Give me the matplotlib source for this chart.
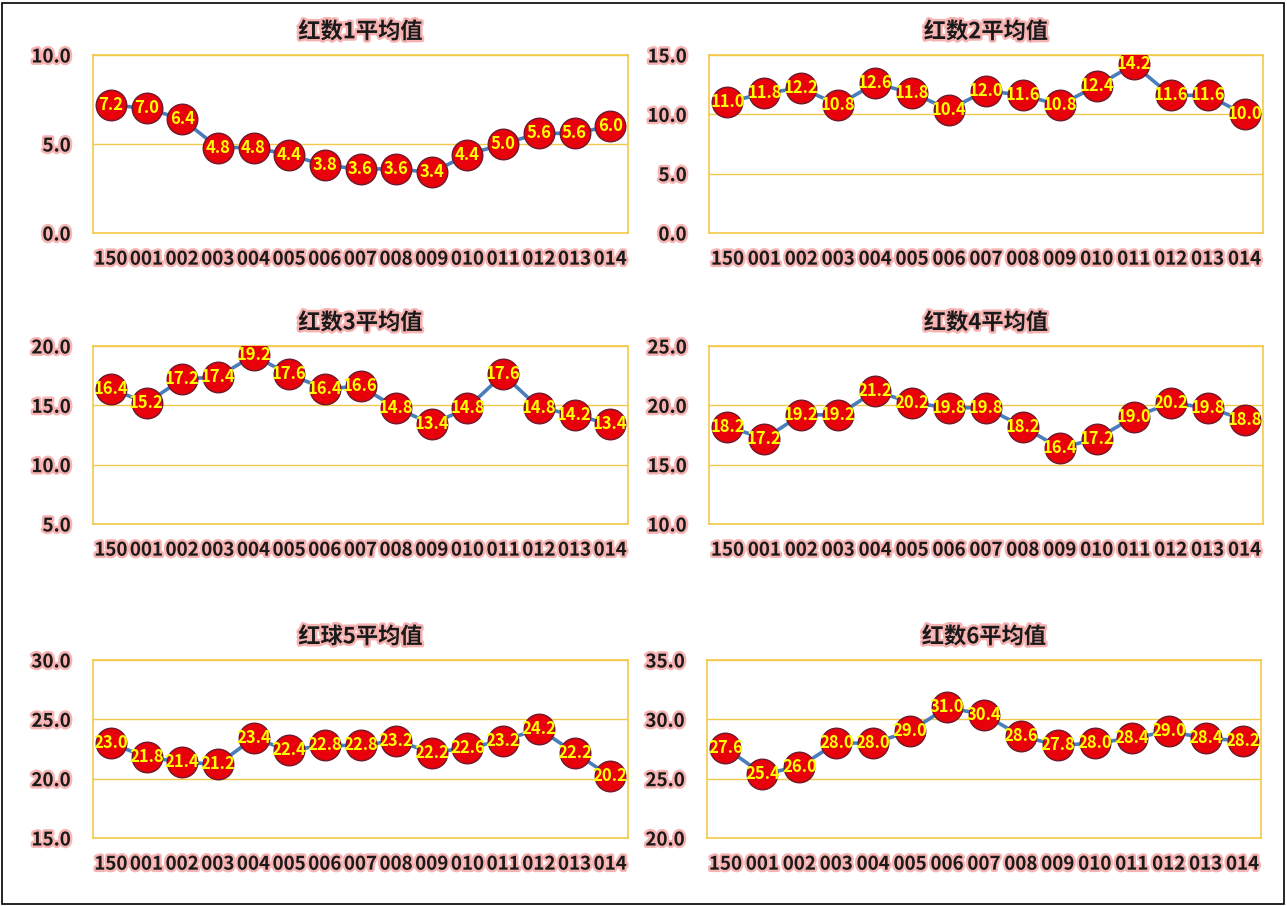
import matplotlib.pyplot as plt
import matplotlib.patheffects as pe
from matplotlib.patches import Rectangle

plt.rcParams['font.family'] = ['Noto Sans CJK SC', 'DejaVu Sans']

periods = ['150', '001', '002', '003', '004', '005', '006', '007',
           '008', '009', '010', '011', '012', '013', '014']

titles = ['红数1平均值', '红数2平均值', '红数3平均值',
          '红数4平均值', '红球5平均值', '红数6平均值']

red1 = [7.2, 7.0, 6.4, 4.8, 4.8, 4.4, 3.8, 3.6, 3.6, 3.4, 4.4, 5.0, 5.6, 5.6, 6.0]
red2 = [11.0, 11.8, 12.2, 10.8, 12.6, 11.8, 10.4, 12.0, 11.6, 10.8, 12.4, 14.2, 11.6, 11.6, 10.0]
red3 = [16.4, 15.2, 17.2, 17.4, 19.2, 17.6, 16.4, 16.6, 14.8, 13.4, 14.8, 17.6, 14.8, 14.2, 13.4]
red4 = [18.2, 17.2, 19.2, 19.2, 21.2, 20.2, 19.8, 19.8, 18.2, 16.4, 17.2, 19.0, 20.2, 19.8, 18.8]
red5 = [23.0, 21.8, 21.4, 21.2, 23.4, 22.4, 22.8, 22.8, 23.2, 22.2, 22.6, 23.2, 24.2, 22.2, 20.2]
red6 = [27.6, 25.4, 26.0, 28.0, 28.0, 29.0, 31.0, 30.4, 28.6, 27.8, 28.0, 28.4, 29.0, 28.4, 28.2]

y_ranges = [(0, 10), (0, 15), (5, 20), (10, 25), (15, 30), (20, 35)]
series = [red1, red2, red3, red4, red5, red6]

W, H = 1287, 906
# axes boxes in pixels: left, top, right, bottom
boxes = [(93, 55, 628, 233), (709, 55, 1263, 233),
         (93, 346, 628, 524), (709, 346, 1263, 524),
         (93, 660, 628, 838), (707, 660, 1261, 838)]

gold = '#F2C94C'
glow = [pe.withStroke(linewidth=3.5, foreground='#F7B2B2')]

fig = plt.figure(figsize=(W / 100, H / 100), dpi=100)
fig.patches.append(Rectangle((2 / W, 2 / H), 1 - 5 / W, 1 - 5 / H,
                             transform=fig.transFigure, fill=False,
                             edgecolor='black', linewidth=1.2))

for (l, t, r, b), title, vals, (lo, hi) in zip(boxes, titles, series, y_ranges):
    ax = fig.add_axes([l / W, 1 - b / H, (r - l) / W, (b - t) / H])
    x = range(len(periods))
    ax.plot(x, vals, '-', color='#4A7EBB', linewidth=2.6, zorder=2)
    ax.plot(x, vals, 'o', markersize=22, markerfacecolor='#E8000B',
            markeredgecolor='#6E1A2A', markeredgewidth=1.0, zorder=3)
    for xi, v in zip(x, vals):
        ax.text(xi, v, f'{v:.1f}', ha='center', va='center', color='#FFFF00',
                fontsize=12, fontweight='bold', zorder=4)
    ax.set_xlim(-0.5, len(periods) - 0.5)
    ax.set_ylim(lo, hi)
    ticks = list(range(lo, hi + 1, 5))
    ax.set_yticks(ticks)
    ax.set_yticklabels([f'{v:.1f}' for v in ticks])
    ax.set_xticks(list(x))
    ax.set_xticklabels(periods)
    ax.grid(axis='y', color=gold, linewidth=1.0)
    ax.set_axisbelow(True)
    for s in ax.spines.values():
        s.set_color(gold)
        s.set_linewidth(1.2)
    ax.tick_params(length=0, pad=12)
    for lab in ax.get_xticklabels() + ax.get_yticklabels():
        lab.set_fontsize(13.5)
        lab.set_fontweight('bold')
        lab.set_color('#1a1a1a')
        lab.set_path_effects(glow)
    ax.tick_params(axis='y', pad=16)
    ax.set_title(title, fontsize=16, fontweight='bold', color='#1a1a1a',
                 pad=12, path_effects=glow)

fig.savefig('out.png', dpi=100)
